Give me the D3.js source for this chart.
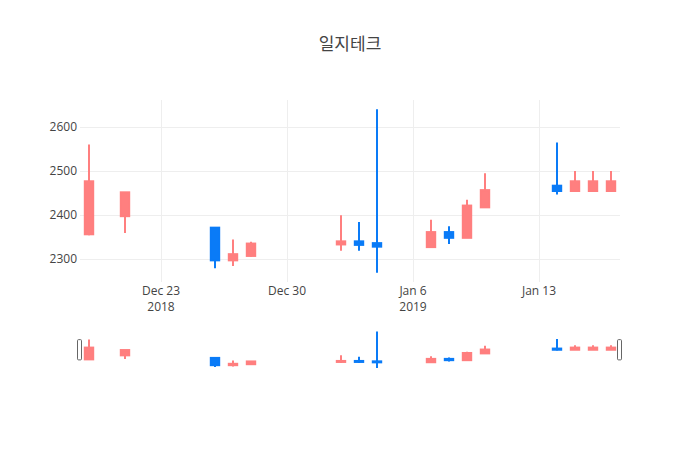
<!DOCTYPE html>
<html>
<head>
<meta charset="utf-8">
<script src="https://cdn.jsdelivr.net/npm/d3@7"></script>
<style>
  body { margin: 0; background: #fff; }
  text { font-family: "Open Sans", "Noto Sans CJK KR", sans-serif; }
</style>
</head>
<body>
<script>
// daily prices
var dates  = ["2018-12-19", "2018-12-21", "2018-12-26", "2018-12-27", "2018-12-28",
              "2019-01-02", "2019-01-03", "2019-01-04", "2019-01-07", "2019-01-08",
              "2019-01-09", "2019-01-10", "2019-01-14", "2019-01-15", "2019-01-16", "2019-01-17"];
var opens  = [2357, 2398, 2372, 2298, 2308, 2334, 2341, 2337, 2328, 2362, 2349, 2418, 2467, 2455, 2455, 2455];
var highs  = [2560, 2452, 2372, 2345, 2340, 2400, 2385, 2640, 2390, 2375, 2435, 2495, 2565, 2500, 2500, 2500];
var lows   = [2355, 2360, 2280, 2285, 2306, 2320, 2320, 2270, 2328, 2335, 2349, 2418, 2447, 2455, 2455, 2455];
var closes = [2477, 2452, 2298, 2312, 2336, 2341, 2333, 2329, 2362, 2349, 2422, 2457, 2455, 2477, 2477, 2477];

var xTickDates  = ["2018-12-23", "2018-12-30", "2019-01-06", "2019-01-13"];
var xTickLabels = [["Dec 23", "2018"], ["Dec 30"], ["Jan 6", "2019"], ["Jan 13"]];
var yTicks = [2300, 2400, 2500, 2600];

var width = 700, height = 450;
var margin = {left: 80, right: 80, top: 100};
var plotBottom = 282;
var sliderTop = 329.5, sliderBottom = 370;
var upColor = "#ff7f7f", downColor = "#0a7bf7";

var parse = d3.timeParse("%Y-%m-%d");
var rows = dates.map(function(d, i){
    return {date: parse(d), o: opens[i], h: highs[i], l: lows[i], c: closes[i]};
});

var halfDay = 12 * 3600 * 1000;
var x = d3.scaleTime()
    .domain([new Date(rows[0].date.getTime() - halfDay), new Date(rows[rows.length-1].date.getTime() + halfDay)])
    .range([margin.left, width - margin.right]);
var y = d3.scaleLinear()
    .domain([2249, 2661])
    .range([plotBottom, margin.top]);
var ySlider = d3.scaleLinear()
    .domain(y.domain())
    .range([sliderBottom, sliderTop]);

var svg = d3.select("body").append("svg")
    .attr("width", width)
    .attr("height", height);

svg.append("text")
    .attr("x", width / 2)
    .attr("y", 50)
    .attr("text-anchor", "middle")
    .style("font-size", "17px")
    .style("fill", "#444")
    .text("일지테크");

/*
 * grid + axes
 */
var grid = svg.append("g");
grid.selectAll("line.ygrid")
        .data(yTicks)
    .enter().append("line")
        .attr("x1", margin.left).attr("x2", width - margin.right)
        .attr("y1", function(d){ return Math.round(y(d)) + 0.5; })
        .attr("y2", function(d){ return Math.round(y(d)) + 0.5; })
        .style("stroke", "#eee");
grid.selectAll("line.xgrid")
        .data(xTickDates)
    .enter().append("line")
        .attr("x1", function(d){ return Math.round(x(parse(d))) + 0.5; })
        .attr("x2", function(d){ return Math.round(x(parse(d))) + 0.5; })
        .attr("y1", margin.top).attr("y2", plotBottom)
        .style("stroke", "#eee");

svg.selectAll("text.ytick")
        .data(yTicks)
    .enter().append("text")
        .attr("x", margin.left - 3)
        .attr("y", function(d){ return y(d) + 4; })
        .attr("text-anchor", "end")
        .style("font-size", "12px")
        .style("fill", "#444")
        .text(function(d){ return d; });

var xt = svg.selectAll("g.xtick")
        .data(xTickDates)
    .enter().append("g")
        .attr("transform", function(d){ return "translate(" + x(parse(d)) + "," + (plotBottom + 13) + ")"; });
xt.each(function(d, i){
    var g = d3.select(this);
    xTickLabels[i].forEach(function(line, j){
        g.append("text")
            .attr("y", j * 16)
            .attr("text-anchor", "middle")
            .style("font-size", "12px")
            .style("fill", "#444")
            .text(line);
    });
});

/*
 * candles
 */
var bodyHalf = 4.2;
function drawCandles(g, yScale, lw){
    var c = g.selectAll("g.candle")
            .data(rows)
        .enter().append("g")
            .attr("transform", function(d){ return "translate(" + x(d.date) + ",0)"; });
    c.append("line")
        .attr("x1", 0).attr("x2", 0)
        .attr("y1", function(d){ return yScale(d.h); })
        .attr("y2", function(d){ return yScale(d.l); })
        .style("stroke", function(d){ return d.c >= d.o ? upColor : downColor; })
        .style("stroke-width", lw);
    c.append("rect")
        .attr("x", -bodyHalf)
        .attr("width", bodyHalf * 2)
        .attr("y", function(d){ return yScale(Math.max(d.o, d.c)); })
        .attr("height", function(d){ return Math.max(1, Math.abs(yScale(d.o) - yScale(d.c))); })
        .style("fill", function(d){ return d.c >= d.o ? upColor : downColor; })
        .style("stroke", function(d){ return d.c >= d.o ? upColor : downColor; })
        .style("stroke-width", lw);
}
drawCandles(svg.append("g"), y, 2);

/*
 * range slider
 */
var slider = svg.append("g");
drawCandles(slider, ySlider, 2);
var handleH = (sliderBottom - sliderTop) / 2;
slider.selectAll("rect.handle")
        .data(x.range())
    .enter().append("rect")
        .attr("x", function(d){ return Math.round(d) - 2.5; })
        .attr("y", sliderTop + handleH / 2)
        .attr("width", 4)
        .attr("height", handleH)
        .attr("rx", 1)
        .style("fill", "#fff")
        .style("stroke", "#666")
        .style("stroke-width", 1);
</script>
</body>
</html>
